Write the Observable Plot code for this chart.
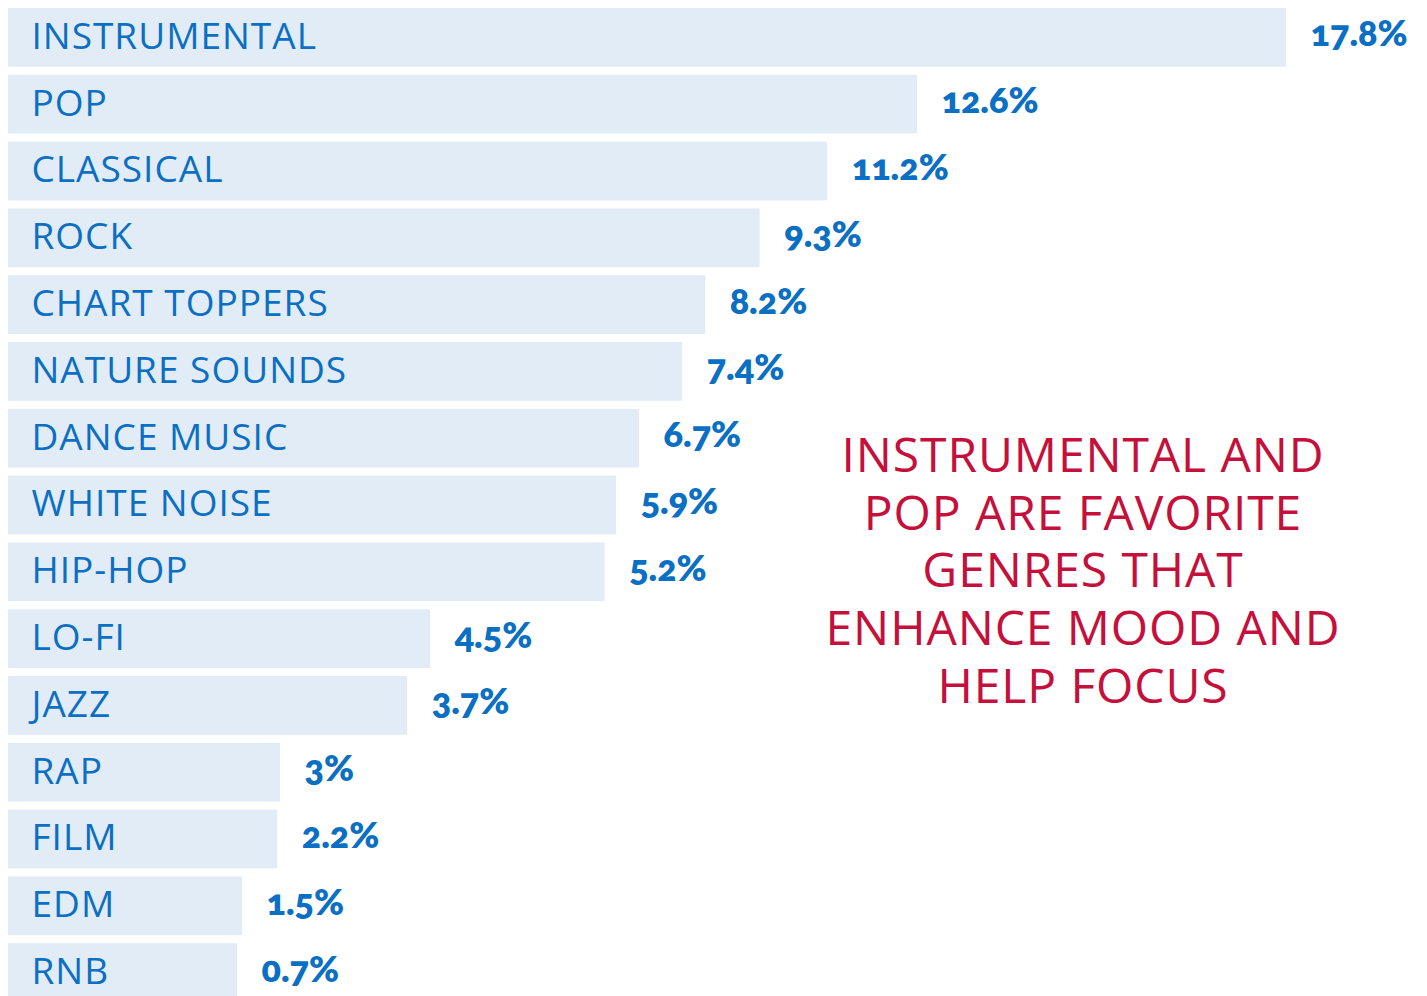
<!DOCTYPE html>
<html>
<head>
<meta charset="utf-8">
<script src="https://cdn.jsdelivr.net/npm/d3@7"></script>
<script src="https://cdn.jsdelivr.net/npm/@observablehq/plot@0.6"></script>
<style>
  html, body { margin: 0; padding: 0; background: #fff; overflow: hidden; }
  #wrap { position: relative; width: 1427px; height: 996px; }
  #note {
    position: absolute; left: 760px; top: 425px; width: 646px; margin: 0;
    text-align: center; color: #c5103c;
    font-family: "Open Sans", sans-serif; font-weight: 400;
    font-size: 48px; line-height: 57.7px; letter-spacing: 0.9px;
  }
</style>
</head>
<body>
<div id="wrap">
  <div id="chart"></div>
  <p id="note"></p>
</div>
<script>
// Genres, top to bottom
const genres = ["INSTRUMENTAL", "POP", "CLASSICAL", "ROCK", "CHART TOPPERS", "NATURE SOUNDS",
  "DANCE MUSIC", "WHITE NOISE", "HIP-HOP", "LO-FI", "JAZZ", "RAP", "FILM", "EDM", "RNB"];
// Printed share values (%)
const shares = [17.8, 12.6, 11.2, 9.3, 8.2, 7.4, 6.7, 5.9, 5.2, 4.5, 3.7, 3, 2.2, 1.5, 0.7];
// Drawn bar lengths (same % units; the source bars are not strictly proportional)
const barLength = [17.8, 12.66, 11.41, 10.47, 9.71, 9.39, 8.79, 8.47, 8.31, 5.88, 5.56, 3.79, 3.75, 3.26, 3.19];
// Value label text
const valueLabels = ["17.8%", "12.6%", "11.2%", "9.3%", "8.2%", "7.4%", "6.7%", "5.9%", "5.2%", "4.5%", "3.7%", "3%", "2.2%", "1.5%", "0.7%"];
const noteLines = ["INSTRUMENTAL AND", "POP ARE FAVORITE", "GENRES THAT", "ENHANCE MOOD AND", "HELP FOCUS"];

const data = genres.map((g, i) => ({genre: g, share: shares[i], len: barLength[i], label: valueLabels[i]}));

const blue = "#0b6fc3";
const chart = Plot.plot({
  width: 1427,
  height: 996,
  marginLeft: 0, marginRight: 0, marginTop: 0, marginBottom: 0,
  style: {background: "transparent"},
  x: {domain: [0, 17.8], range: [8, 1286], axis: null},
  y: {domain: genres, range: [8, 1002], paddingInner: 0.12, paddingOuter: 0, round: false, axis: null},
  marks: [
    Plot.barX(data, {x: "len", y: "genre", fill: "#e2ecf6"}),
    Plot.text(data, {x: () => 0, y: "genre", text: "genre", textAnchor: "start", dx: 23, dy: -1,
      fill: blue, fontSize: 37, fontFamily: "Open Sans, sans-serif", fontWeight: 400}),
    Plot.text(data, {x: "len", y: "genre", text: "label", textAnchor: "start", dx: 24, dy: -3,
      fill: blue, fontSize: 36, fontFamily: "Lato, sans-serif", fontWeight: 800})
  ]
});
chart.querySelectorAll("text").forEach(t => t.style.fontVariantNumeric = "oldstyle-nums");
// genre labels: slightly wider tracking, like the source typeface
chart.querySelectorAll("g[font-size='37'] text, g[font-size='37']").forEach(t => t.style.letterSpacing = "1px");
document.getElementById("chart").append(chart);
document.getElementById("note").innerHTML = noteLines.join("<br>");
</script>
</body>
</html>
